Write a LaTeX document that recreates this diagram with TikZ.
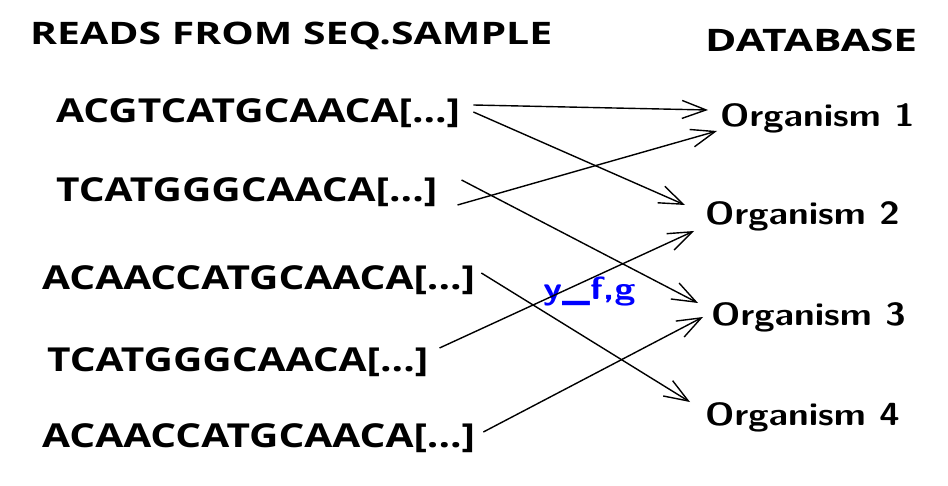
\documentclass[tikz,border=0pt]{standalone}
\usepackage{fontspec}
\newfontfamily\hdrfont{Open Sans}[FakeStretch=1.32]
\newfontfamily\dbfont{Open Sans}[FakeStretch=1.37]
\newfontfamily\rdfont{Open Sans}[FakeStretch=1.23]
\newfontfamily\orgfont{Latin Modern Sans}[FakeStretch=1.155]
\newfontfamily\lblfont{Latin Modern Sans}[FakeStretch=1.19]
\usetikzlibrary{arrows.meta,calc}
\begin{document}
\begin{tikzpicture}[x=1pt,y=-1pt,
  hdr/.style={font=\hdrfont\bfseries\fontsize{31}{36}\selectfont, inner sep=0pt, anchor=base west},
  db/.style={font=\dbfont\bfseries\fontsize{31}{36}\selectfont, inner sep=0pt, anchor=base west},
  rd/.style={font=\rdfont\bfseries\fontsize{33}{38}\selectfont, inner sep=0pt, anchor=base west},
  org/.style={font=\orgfont\bfseries\fontsize{32}{38}\selectfont, inner sep=0pt, anchor=base west},
  lbl/.style={font=\lblfont\bfseries\fontsize{32}{38}\selectfont, inner sep=0pt, text=blue, anchor=base west},
  con/.style={draw=black, line width=1.4pt, -{Straight Barb[length=24pt,width=18pt,line width=1.4pt]}}]
\useasboundingbox (0,0) rectangle (948,486);
\node[hdr] (h1) at (30,45) {READS FROM SEQ.SAMPLE};
\node[db] (h2) at (705,52) {DATABASE};
\node[rd] (r1) at (56,123) {ACGTCATGCAACA[...]};
\node[rd] (r2) at (56,202) {TCATGGGCAACA[...]};
\node[rd] (r3) at (42,290) {ACAACCATGCAACA[...]};
\node[rd] (r4) at (47,371) {TCATGGGCAACA[...]};
\node[rd] (r5) at (42,447) {ACAACCATGCAACA[...]};
\node[org] (o1) at (720,126.5) {Organism 1};
\node[org] (o2) at (705,225) {Organism 2};
\node[org] (o3) at (711,326) {Organism 3};
\node[org] (o4) at (705,425) {Organism 4};
\node[lbl] (y) at (543,300) {y\_f,g};
\draw[con] ($(r1.base east)+(13,-18)$) -- ($(o1.base west)+(-12,-16.5)$);
\draw[con] ($(r1.base east)+(13,-11)$) -- ($(o2.base west)+(-20,-20)$);
\draw[con] ($(r2.base east)+(20,3)$) -- ($(o1.base west)+(-3,4.5)$);
\draw[con] ($(r2.base east)+(24,-22)$) -- ($(o3.base west)+(-13,-23)$);
\draw[con] ($(r3.base east)+(6,-17)$) -- ($(o4.base west)+(-15,-23)$);
\draw[con] ($(r4.base east)+(11,-23)$) -- ($(o2.base west)+(-11,6)$);
\draw[con] ($(r5.base east)+(8,-15)$) -- ($(o3.base west)+(-8,-9)$);
\end{tikzpicture}
\end{document}
